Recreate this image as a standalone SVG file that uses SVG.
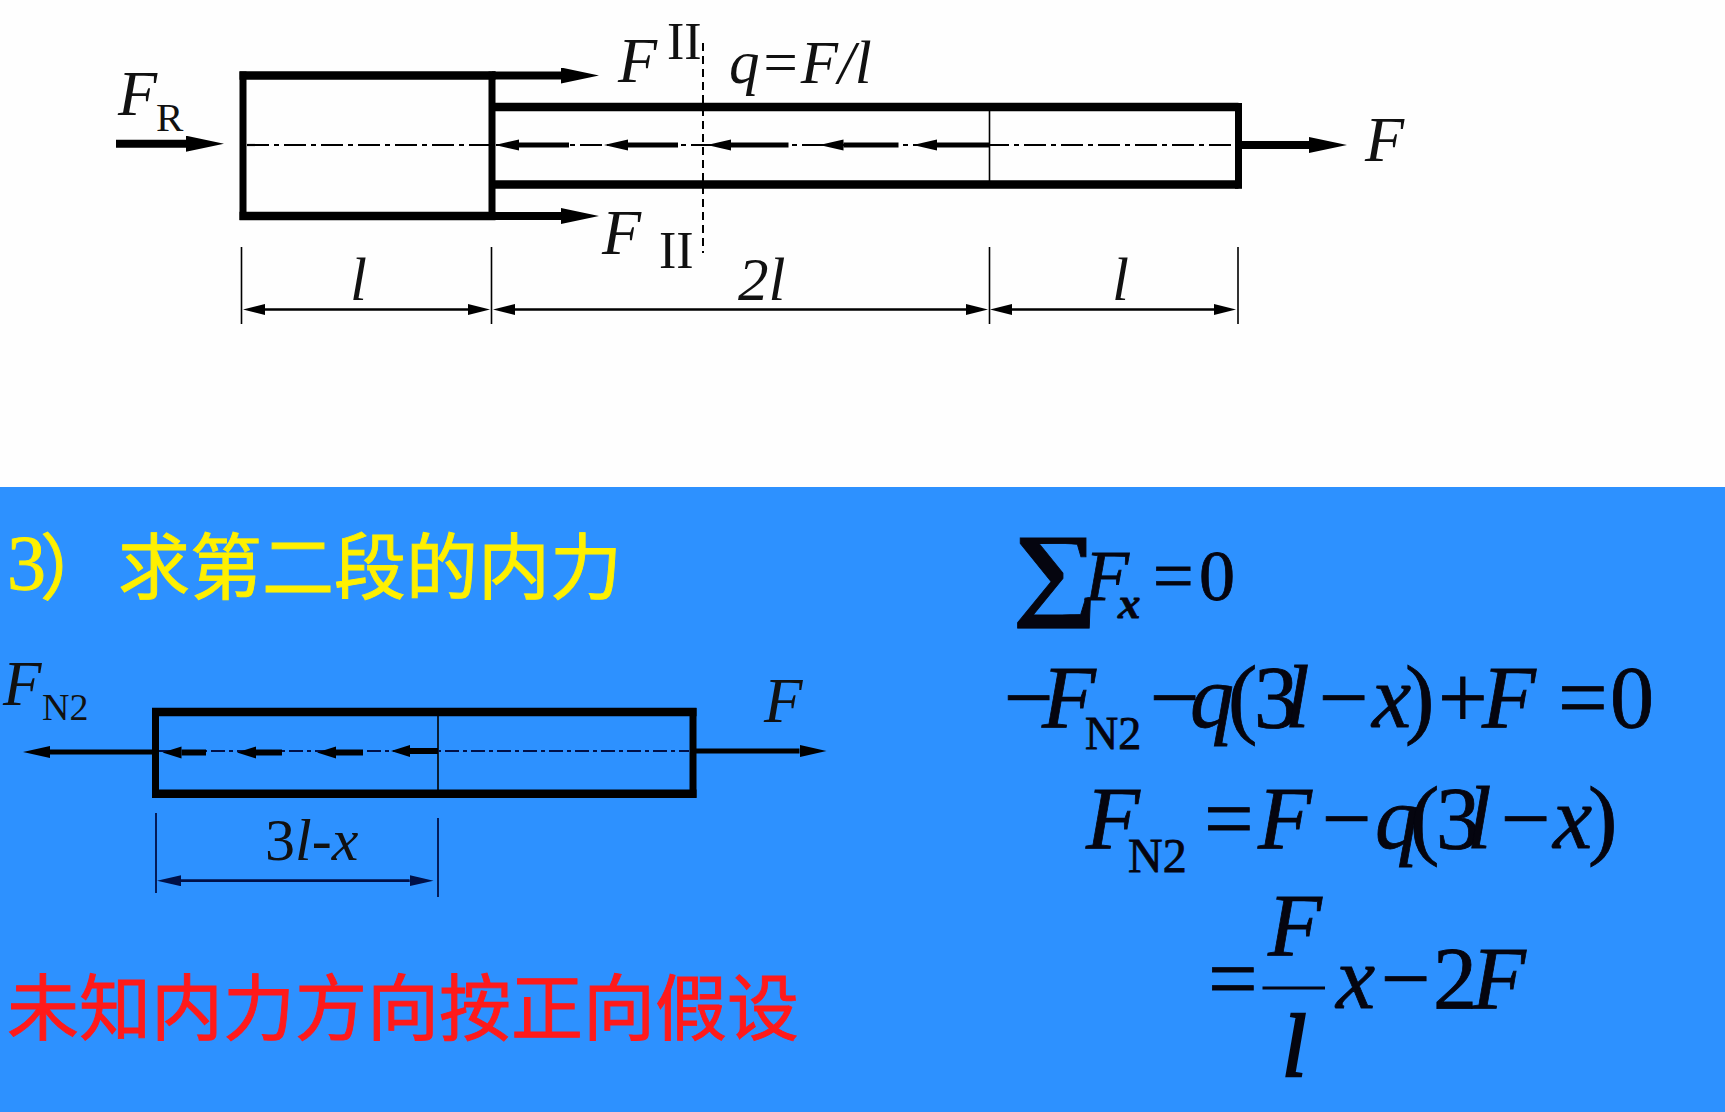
<svg xmlns="http://www.w3.org/2000/svg" width="1725" height="1112" viewBox="0 0 1725 1112">
<style>
.t{font-family:"Liberation Serif",serif;fill:#111}
.i{font-style:italic}
.bar{fill:none;stroke:#000;stroke-width:7}
.hbar{fill:none;stroke:#000;stroke-width:8.5}
.thin{stroke:#000;stroke-width:1.6;fill:none}
.cl{stroke:#000;stroke-width:2.2;stroke-dasharray:22 5 5 5;fill:none}
.f1{stroke:#000;stroke-width:8;marker-end:url(#h1)}
.q1{stroke:#000;stroke-width:5;marker-end:url(#h2)}
.d1{stroke:#000;stroke-width:2.2;marker-end:url(#h3)}
.f2{stroke:#000;stroke-width:5;marker-end:url(#h4)}
.q2{stroke:#000;stroke-width:6;marker-end:url(#h5)}
.d2{stroke:#001048;stroke-width:2.4;marker-end:url(#h6)}
.cjk{font-family:"Noto Sans CJK SC",sans-serif;font-size:72px;stroke-width:.9}
.eq{font-family:"Liberation Serif",serif;fill:#05050f;stroke:#05050f;stroke-width:.8;font-size:88px}
</style>
<defs>
<marker id="h1" markerUnits="userSpaceOnUse" markerWidth="40" markerHeight="20" refX="0" refY="8" orient="auto"><path d="M0,0L38,8L0,16Z" fill="#000"/></marker>
<marker id="h2" markerUnits="userSpaceOnUse" markerWidth="26" markerHeight="12" refX="0" refY="5.5" orient="auto"><path d="M0,0L24,5.5L0,11Z" fill="#000"/></marker>
<marker id="h3" markerUnits="userSpaceOnUse" markerWidth="24" markerHeight="12" refX="0" refY="5.5" orient="auto"><path d="M0,0L22,5.5L0,11Z" fill="#000"/></marker>
<marker id="h4" markerUnits="userSpaceOnUse" markerWidth="28" markerHeight="14" refX="0" refY="6" orient="auto"><path d="M0,0L27,6L0,12Z" fill="#000"/></marker>
<marker id="h5" markerUnits="userSpaceOnUse" markerWidth="20" markerHeight="14" refX="0" refY="6" orient="auto"><path d="M0,0L19,6L0,12Z" fill="#000"/></marker>
<marker id="h6" markerUnits="userSpaceOnUse" markerWidth="26" markerHeight="12" refX="0" refY="5.5" orient="auto"><path d="M0,0L24,5.5L0,11Z" fill="#001048"/></marker>
</defs>
<rect width="1725" height="1112" fill="#fefefe"/>
<rect y="487" width="1725" height="625" fill="#2d91ff"/>

<g id="bar-upper">
<path class="hbar" d="M492,107H1238.5M492,184.6H1238.5"/>
<path class="bar" d="M1238.5,103V188.8"/>
<path class="hbar" d="M239.5,75.5H495.5M239.5,216H495.5"/>
<path class="bar" d="M243,71.5V220M492,71.5V220"/>
<line class="thin" x1="989.5" y1="110" x2="989.5" y2="181"/>
</g>
<g id="bar-lower">
<path class="hbar" d="M152,712H696.5M152,793.7H696.5"/>
<path class="bar" d="M155.5,708V797.7M693,708V797.7"/>
<line class="thin" x1="438" y1="716" x2="438" y2="790"/>
</g>

<g id="connectors">
<line class="cl" x1="247" y1="145" x2="1235" y2="145"/>
<line x1="703" y1="43" x2="703" y2="253" stroke="#000" stroke-width="2" stroke-dasharray="8 5"/>
<line class="f1" x1="116" y1="143.7" x2="186" y2="143.7"/>
<line class="f1" x1="492" y1="75.5" x2="561" y2="75.5"/>
<line class="f1" x1="492" y1="216" x2="561" y2="216"/>
<line class="f1" x1="1242" y1="145" x2="1309" y2="145"/>
<line class="q1" x1="569" y1="145" x2="519" y2="145"/>
<line class="q1" x1="678" y1="145" x2="628" y2="145"/>
<line class="q1" x1="788.5" y1="145" x2="731" y2="145"/>
<line class="q1" x1="898.5" y1="145" x2="843.5" y2="145"/>
<line class="q1" x1="989.5" y1="145" x2="937" y2="145"/>
<path class="thin" d="M241.5,247V324M491.5,247V324M989.5,247V324M1238,247V324"/>
<line class="d1" x1="265" y1="309.5" x2="468" y2="309.5"/>
<line class="d1" x1="468" y1="309.5" x2="265" y2="309.5"/>
<line class="d1" x1="515" y1="309.5" x2="966" y2="309.5"/>
<line class="d1" x1="966" y1="309.5" x2="515" y2="309.5"/>
<line class="d1" x1="1012" y1="309.5" x2="1214" y2="309.5"/>
<line class="d1" x1="1214" y1="309.5" x2="1012" y2="309.5"/>
<line x1="159" y1="751" x2="689" y2="751" stroke="#001048" stroke-width="2.2" stroke-dasharray="14 4 4 4"/>
<line class="f2" x1="155" y1="752" x2="50" y2="752"/>
<line class="f2" x1="693" y1="751" x2="799.5" y2="751"/>
<line class="q2" x1="206" y1="752.5" x2="181.5" y2="752.5"/>
<line class="q2" x1="282" y1="752.5" x2="256" y2="752.5"/>
<line class="q2" x1="363" y1="752.5" x2="336" y2="752.5"/>
<line class="q2" x1="438" y1="751" x2="410" y2="751"/>
<path d="M156,813V893M438,818V897" stroke="#001048" stroke-width="1.8" fill="none"/>
<line class="d2" x1="181" y1="880.7" x2="409.5" y2="880.7"/>
<line class="d2" x1="409.5" y1="880.7" x2="181" y2="880.7"/>
</g>

<g id="labels-upper">
<text class="t i" x="118" y="115" font-size="64">F</text>
<text class="t" x="156" y="131" font-size="41">R</text>
<text class="t i" x="618" y="82" font-size="64">F</text>
<text class="t" x="667" y="59" font-size="52">II</text>
<text class="t i" x="602" y="254" font-size="64">F</text>
<text class="t" x="659" y="268" font-size="52">II</text>
<text class="t i" x="729" y="82.5" font-size="61">q=F/l</text>
<text class="t i" x="1365" y="160.7" font-size="64">F</text>
<text class="t i" x="350" y="300" font-size="61">l</text>
<text class="t i" x="738" y="300" font-size="61">2l</text>
<text class="t i" x="1112" y="300" font-size="61">l</text>
</g>

<g id="labels-lower">
<text class="t i" x="3" y="705" font-size="63">F</text>
<text class="t" x="42" y="720" font-size="38">N2</text>
<text class="t i" x="764" y="722" font-size="63">F</text>
<text class="t" x="265" y="860" font-size="60">3<tspan class="i">l</tspan>-<tspan class="i">x</tspan></text>
</g>

<g id="heading">
<text x="7" y="589" fill="#fff000" stroke="#fff000" class="cjk"><tspan font-family="Liberation Serif" font-size="78">3</tspan><tspan x="40" y="593">）</tspan><tspan x="118" y="593">求第二段的内力</tspan></text>
</g>
<g id="note">
<text x="7" y="1034" fill="#ff1a1a" stroke="#ff1a1a" class="cjk">未知内力方向按正向假设</text>
</g>

<g id="equation-1">
<text class="eq" transform="translate(1012,606) scale(1.15,1)" style="font-size:104px;font-weight:bold">∑</text>
<text class="eq i" x="1085" y="600" style="font-size:72px">F</text>
<text class="eq i" x="1118" y="618" style="font-size:45px;font-weight:bold">x</text>
<text class="eq" x="1153 1199" y="600" style="font-size:72px">=0</text>
</g>
<g id="equation-2">
<text class="eq" x="1004" y="726.7">−</text>
<text class="eq i" x="1042" y="726.7">F</text>
<text class="eq" x="1085" y="749" style="font-size:46px">N2</text>
<text class="eq" x="1150" y="726.7">−</text>
<text class="eq i" x="1190" y="726.7">q</text>
<text class="eq" x="1228 1254" y="726.7">(3</text>
<text class="eq i" x="1285" y="726.7">l</text>
<text class="eq" x="1319" y="726.7">−</text>
<text class="eq i" x="1372" y="726.7">x</text>
<text class="eq" x="1405 1438" y="726.7">)+</text>
<text class="eq i" x="1482" y="726.7">F</text>
<text class="eq" x="1558 1610" y="726.7">=0</text>
</g>
<g id="equation-3">
<text class="eq i" x="1086" y="848">F</text>
<text class="eq" x="1128" y="871.7" style="font-size:48px">N2</text>
<text class="eq" x="1204" y="848">=</text>
<text class="eq i" x="1258" y="848">F</text>
<text class="eq" x="1322" y="848">−</text>
<text class="eq i" x="1375" y="848">q</text>
<text class="eq" x="1410 1436" y="848">(3</text>
<text class="eq i" x="1467" y="848">l</text>
<text class="eq" x="1501" y="848">−</text>
<text class="eq i" x="1553" y="848">x</text>
<text class="eq" x="1588" y="848">)</text>
</g>
<g id="equation-4">
<text class="eq" x="1208" y="1008">=</text>
<text class="eq i" x="1268" y="955">F</text>
<line x1="1262.5" y1="988" x2="1325" y2="988" stroke="#05050f" stroke-width="3"/>
<text class="eq i" x="1282" y="1076" style="stroke-width:2.5">l</text>
<text class="eq i" x="1336" y="1008">x</text>
<text class="eq" x="1381" y="1008">−</text>
<text class="eq" x="1433" y="1008">2</text>
<text class="eq i" x="1472" y="1008">F</text>
</g>
</svg>
